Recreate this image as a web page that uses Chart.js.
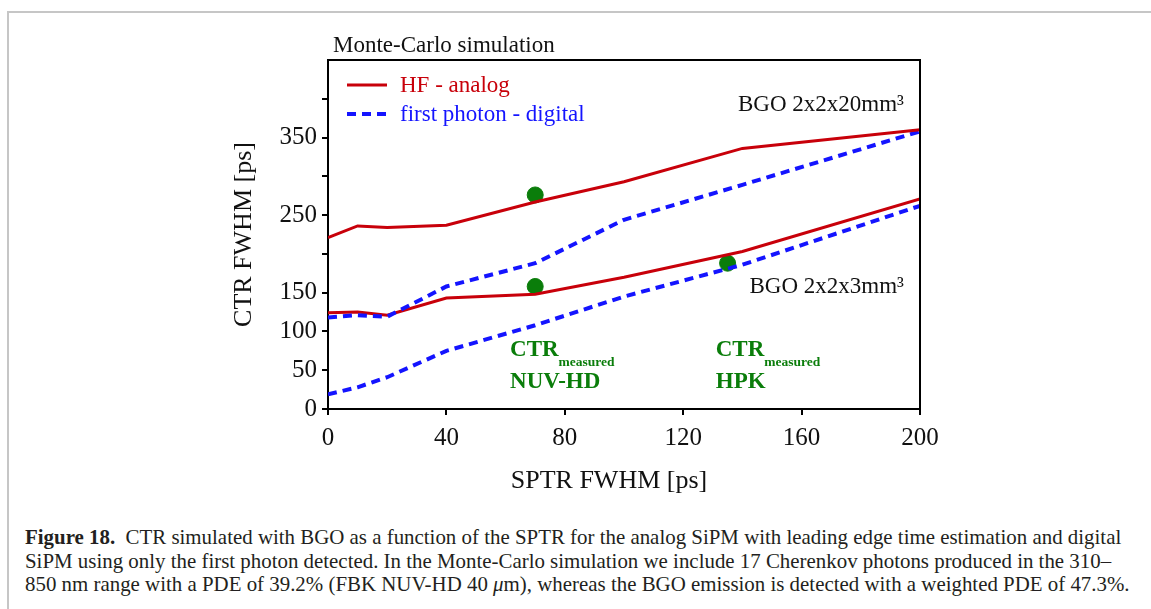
<!DOCTYPE html>
<html>
<head>
<meta charset="utf-8">
<script src="https://cdn.jsdelivr.net/npm/chart.js@4.4.0/dist/chart.umd.min.js"></script>
<style>
  html, body { margin: 0; padding: 0; background: #fff; }
  body { width: 1151px; height: 609px; position: relative; overflow: hidden; font-family: "Liberation Serif", serif; }
  #frame { position: absolute; left: 7px; top: 11px; width: 1300px; height: 800px; border-top: 2px solid #c6c6c6; border-left: 2px solid #c6c6c6; }
  #chart { position: absolute; left: 0; top: 0; }
  #caption { position: absolute; left: 25px; top: 526px; font-size: 20.9px; line-height: 23.5px; color: #231f20; white-space: nowrap; }
</style>
</head>
<body>
<div id="frame"></div>
<canvas id="chart" width="1151" height="500"></canvas>
<div id="caption">
  <div><b>Figure 18.</b>&nbsp; CTR simulated with BGO as a function of the SPTR for the analog SiPM with leading edge time estimation and digital</div>
  <div>SiPM using only the first photon detected. In the Monte-Carlo simulation we include 17 Cherenkov photons produced in the 310–</div>
  <div>850 nm range with a PDE of 39.2% (FBK NUV-HD 40 <i>μ</i>m), whereas the BGO emission is detected with a weighted PDE of 47.3%.</div>
</div>
<script>
// SPTR FWHM [ps]
var sptr = [0, 10, 20, 40, 70, 100, 140, 200];
// CTR FWHM [ps], BGO 2x2x20 mm3
var hfAnalog20 = [221, 236, 234, 237, 267, 293, 336, 360];
var firstPhoton20 = [118, 121, 119, 158, 188, 244, 289, 358];
// CTR FWHM [ps], BGO 2x2x3 mm3
var hfAnalog3 = [124, 125, 121, 143, 148, 170, 203, 271];
var firstPhoton3 = [19, 28, 41, 75, 108, 145, 186, 262];
// measured CTR points
var measuredSptr = [70, 70, 135];
var measuredCtr = [276, 158, 188];

var xTicks = [0, 40, 80, 120, 160, 200];
var yTicks = [0, 50, 100, 150, 200, 250, 300, 350, 400];
var yLabels = [0, 50, 100, 150, 250, 350];

var serif = "'Liberation Serif', 'Times New Roman', serif";
var red = "#c8000a";
var blue = "#1414ff";
var green = "#0a7d0a";

function pts(xs, ys) {
    return xs.map(function (x, i) { return { x: x, y: ys[i] }; });
}

var decor = {
    id: "decor",
    afterDraw: function (chart) {
        var ctx = chart.ctx;
        var a = chart.chartArea;
        var xs = chart.scales.x, ys = chart.scales.y;
        ctx.save();
        // box around plot
        ctx.strokeStyle = "#000";
        ctx.lineWidth = 2;
        ctx.beginPath();
        ctx.moveTo(a.left, a.top);
        ctx.lineTo(a.right, a.top);
        ctx.lineTo(a.right, a.bottom);
        ctx.stroke();

        ctx.textBaseline = "middle";
        ctx.fillStyle = "#111";
        ctx.font = "23px " + serif;
        ctx.textAlign = "left";
        ctx.fillText("Monte-Carlo simulation", a.left + 5, a.top - 14);

        // x axis title, a little left of the plot centre as in the original
        ctx.textAlign = "center";
        ctx.font = "26px " + serif;
        ctx.fillText("SPTR FWHM [ps]", (a.left + a.right) / 2 - 15, a.bottom + 72);

        // legend
        ctx.textAlign = "left";
        ctx.font = "23px " + serif;
        var ds = chart.data.datasets;
        [0, 1].forEach(function (k, i) {
            var y = a.top + 25 + i * 29;
            ctx.strokeStyle = ds[k].borderColor;
            ctx.lineWidth = ds[k].borderWidth;
            ctx.setLineDash(ds[k].borderDash || []);
            ctx.beginPath();
            ctx.moveTo(a.left + 19, y);
            ctx.lineTo(a.left + 59, y);
            ctx.stroke();
            ctx.setLineDash([]);
            ctx.fillStyle = ds[k].borderColor;
            ctx.fillText(ds[k].label, a.left + 72, y + 1);
        });

        // crystal labels
        ctx.fillStyle = "#111";
        ctx.font = "23px " + serif;
        ctx.textAlign = "right";
        ctx.fillText("BGO 2x2x20mm\u00b3", xs.getPixelForValue(200) - 16, ys.getPixelForValue(392));
        ctx.fillText("BGO 2x2x3mm\u00b3", xs.getPixelForValue(200) - 16, ys.getPixelForValue(157));

        // measured labels
        ctx.textAlign = "left";
        ctx.fillStyle = green;
        [[61.5, "NUV-HD"], [131, "HPK"]].forEach(function (m) {
            var x = xs.getPixelForValue(m[0]);
            ctx.font = "bold 23px " + serif;
            ctx.fillText("CTR", x, ys.getPixelForValue(76));
            var w = ctx.measureText("CTR").width;
            ctx.font = "bold 13.5px " + serif;
            ctx.fillText("measured", x + w, ys.getPixelForValue(60));
            ctx.font = "bold 23px " + serif;
            ctx.fillText(m[1], x, ys.getPixelForValue(35));
        });
        ctx.restore();
    }
};

new Chart(document.getElementById("chart").getContext("2d"), {
    type: "line",
    data: {
        datasets: [{
            label: "HF - analog",
            data: pts(sptr, hfAnalog20),
            borderColor: red,
            borderWidth: 3,
            pointRadius: 0,
            tension: 0
        }, {
            label: "first photon - digital",
            data: pts(sptr, firstPhoton20),
            borderColor: blue,
            borderWidth: 4,
            borderDash: [9, 6],
            pointRadius: 0,
            tension: 0
        }, {
            label: "HF - analog 3mm",
            data: pts(sptr, hfAnalog3),
            borderColor: red,
            borderWidth: 3,
            pointRadius: 0,
            tension: 0
        }, {
            label: "first photon - digital 3mm",
            data: pts(sptr, firstPhoton3),
            borderColor: blue,
            borderWidth: 4,
            borderDash: [9, 6],
            pointRadius: 0,
            tension: 0
        }, {
            label: "CTR measured",
            type: "scatter",
            data: pts(measuredSptr, measuredCtr),
            backgroundColor: green,
            borderColor: green,
            pointRadius: 8,
            showLine: false
        }]
    },
    options: {
        responsive: false,
        animation: false,
        events: [],
        layout: { padding: { left: 228, right: 231, top: 60, bottom: 6 } },
        plugins: {
            legend: { display: false },
            tooltip: { enabled: false }
        },
        scales: {
            x: {
                type: "linear",
                min: 0,
                max: 200,
                afterBuildTicks: function (s) { s.ticks = xTicks.map(function (v) { return { value: v }; }); },
                afterFit: function (s) { s.height = 85; },
                border: { color: "#000", width: 2 },
                grid: { drawOnChartArea: false, tickLength: 6, color: "#000", lineWidth: 2 },
                ticks: { color: "#111", autoSkip: false, maxRotation: 0, padding: 8, font: { family: serif, size: 25 } },
                title: { display: false }
            },
            y: {
                min: 0,
                max: 450,
                afterBuildTicks: function (s) { s.ticks = yTicks.map(function (v) { return { value: v }; }); },
                afterFit: function (s) { s.width = 100; },
                border: { color: "#000", width: 2 },
                grid: { drawOnChartArea: false, tickLength: 6, color: "#000", lineWidth: 2 },
                ticks: {
                    color: "#111", autoSkip: false, padding: 5, font: { family: serif, size: 25 },
                    callback: function (v) { return yLabels.indexOf(v) >= 0 ? String(v) : ""; }
                },
                title: { display: true, text: "CTR FWHM [ps]", color: "#111", font: { family: serif, size: 26 }, padding: { top: 1, bottom: 0 } }
            }
        }
    },
    plugins: [decor]
});
</script>
</body>
</html>
